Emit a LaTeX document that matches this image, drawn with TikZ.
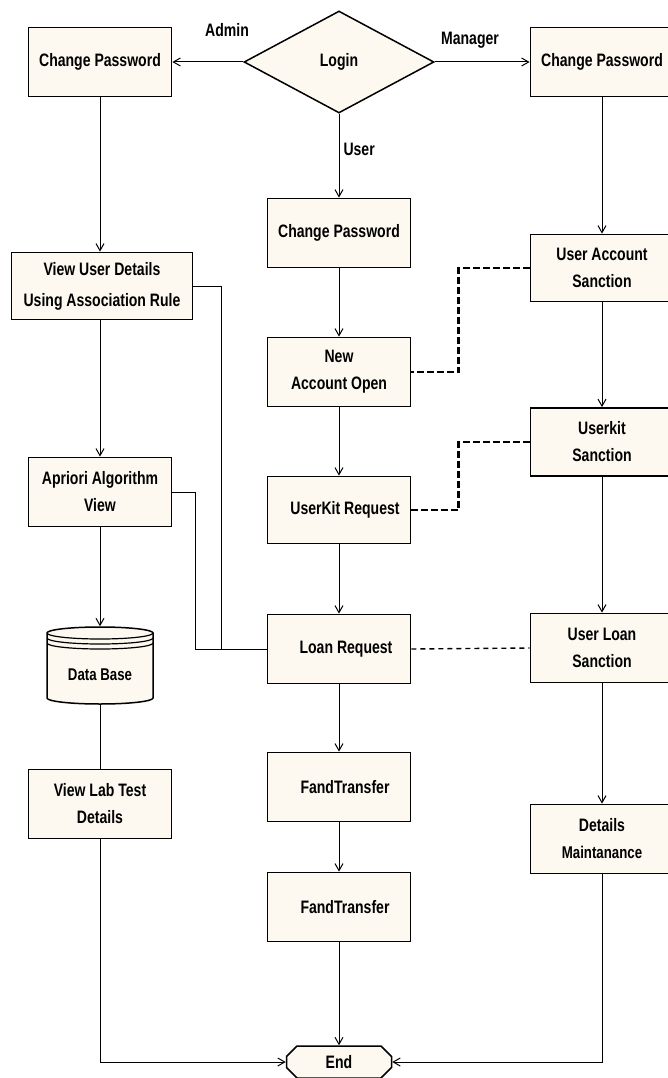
\documentclass[tikz,border=0pt]{standalone}
\usepackage{fontspec}
\setmainfont{Liberation Sans}[FakeStretch=0.78]
\usetikzlibrary{shapes.geometric,shapes.misc,arrows.meta}
\definecolor{boxfill}{RGB}{253,249,240}

\begin{document}
\begin{tikzpicture}[x=1pt,y=-1pt,
        every node/.style={font=\fontsize{18}{27}\selectfont\bfseries,align=center},
        box/.style={draw,line width=1.8pt,fill=boxfill,minimum width=143pt,minimum height=69pt,inner sep=2pt},
        wbox/.style={box,minimum width=181pt,minimum height=67pt},
        ask/.style={draw,diamond,line width=1.5pt,fill=boxfill,minimum width=190pt,minimum height=102pt,inner sep=0pt},
        stop/.style={draw,chamfered rectangle,chamfered rectangle xsep=7pt,line width=1.5pt,fill=boxfill,minimum width=105pt,minimum height=32pt},
        flow/.style={line width=1pt,-{Straight Barb[length=7pt,width=8pt]}},
        plain/.style={line width=1pt},
        sanc/.style={line width=2.8pt,dash pattern=on 7pt off 3pt},
        tie/.style={line width=1.4pt,dash pattern=on 5pt off 4pt},
        lbl/.style={inner sep=0pt}]
    \useasboundingbox (0,0) rectangle (668,1078);

    % top row
    \node[box]  (cpA)   at (100,62)  {Change Password};
    \node[ask]  (login) at (339,62)  {Login};
    \node[box]  (cpM)   at (602,62)  {Change Password};
    \node[lbl]  (admin) at (227,30)  {Admin};
    \node[lbl]  (mgr)   at (470,40)  {Manager};

    % admin column
    \node[wbox] (vud) at (102,286) {View User Details\\[4pt]Using Association Rule};
    \node[box]  (apr) at (100,492) {Apriori Algorithm\\View};
    \node[minimum width=106pt,minimum height=77pt,inner sep=0pt] (db) at (100,665) {};
    \node[box]  (vlt) at (100,804) {View Lab Test\\Details};

    % user column
    \node[box] (cpU) at (339,233) {Change Password};
    \node[box] (nao) at (339,372) {New\\Account Open};
    \node[box,minimum height=67pt] (ukr) at (339,510) {\hspace*{12pt}UserKit Request};
    \node[box] (lr)  at (339,649) {\hspace*{14pt}Loan Request};
    \node[box] (ft1) at (339,787) {\hspace*{12pt}FandTransfer};
    \node[box] (ft2) at (339,907) {\hspace*{12pt}FandTransfer};
    \node[stop] (end) at (339,1062) {End};

    % manager column
    \node[box,minimum height=67pt] (uas) at (602,268) {User Account\\Sanction};
    \node[box,minimum height=68pt] (uks) at (602,442) {Userkit\\Sanction};
    \node[box] (uls) at (602,648) {User Loan\\Sanction};
    \node[box] (dm)  at (602,839) {Details\\{\fontsize{17}{27}\selectfont Maintanance}};

    % data base drum
    \draw[line width=1.5pt,fill=boxfill] (47,633) -- (47,698)
        arc[start angle=180,end angle=360,x radius=53pt,y radius=6pt] -- (153,633)
        arc[start angle=0,end angle=180,x radius=53pt,y radius=6pt] -- cycle;
    \foreach \h in {633,638,643}
        \draw[line width=1.2pt] (47,\h) arc[start angle=180,end angle=360,x radius=53pt,y radius=6pt];
    \node[font=\fontsize{17}{20}\selectfont\bfseries] (dbt) at (100,675) {Data Base};

    % connectors
    \draw[flow] (login.west) -- (cpA.east);
    \draw[flow] (login.east) -- (cpM.west);
    \draw[flow] (login.south) -- (cpU.north) node[lbl,pos=0.43,right=4pt] {User};

    \draw[flow] (cpA.south) -- (cpA.south |- vud.north);
    \draw[flow] (apr.north |- vud.south) -- (apr.north);
    \draw[flow] (apr.south) -- (db.north);
    \draw[plain] (db.south) -- (vlt.north);
    \draw[flow] (vlt.south) |- (end.west);

    \draw[flow] (cpU.south) -- (nao.north);
    \draw[flow] (nao.south) -- (ukr.north);
    \draw[flow] (ukr.south) -- (lr.north);
    \draw[flow] (lr.south) -- (ft1.north);
    \draw[flow] (ft1.south) -- (ft2.north);
    \draw[flow] (ft2.south) -- (end.north);

    \draw[flow] (cpM.south) -- (uas.north);
    \draw[flow] (uas.south) -- (uks.north);
    \draw[flow] (uks.south) -- (uls.north);
    \draw[flow] (uls.south) -- (dm.north);
    \draw[flow] (dm.south) |- (end.east);

    \draw[plain] (vud.east) -- ++(28,0) |- (lr.west);
    \draw[plain] (apr.east) -- ++(23,0) |- (lr.west);
    \draw[sanc] (uas.west) -- ++(-71,0) |- (nao.east);
    \draw[sanc] (uks.west) -- ++(-71,0) |- (ukr.east);
    \draw[tie] (lr.east) -- (uls.west);
\end{tikzpicture}
\end{document}
